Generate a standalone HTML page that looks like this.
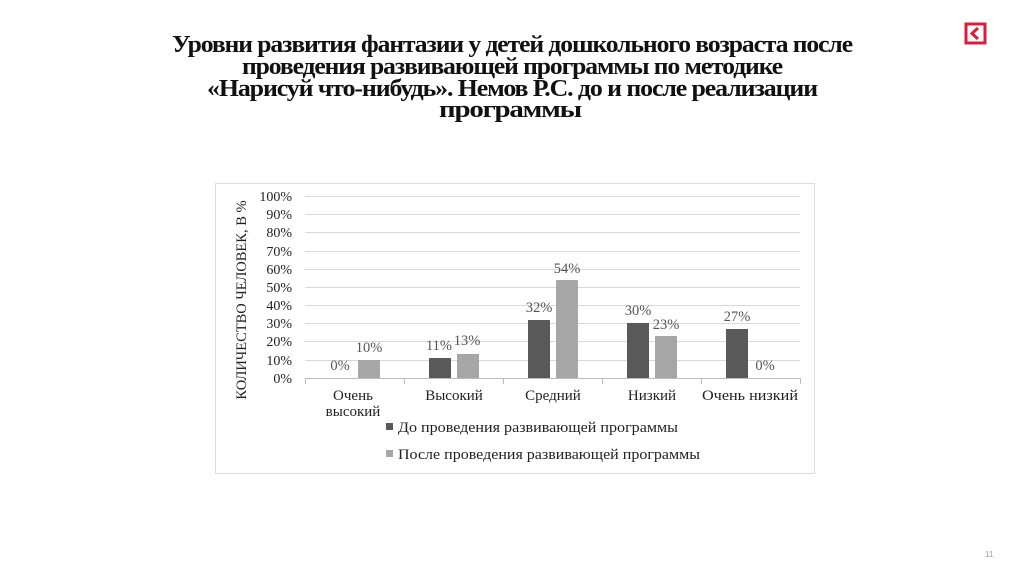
<!DOCTYPE html>
<html><head><meta charset="utf-8"><style>
body{margin:0;background:#fff;width:1024px;height:574px;overflow:hidden}
svg{display:block}
</style></head><body>
<svg width="1024" height="574" xmlns="http://www.w3.org/2000/svg" font-family="Liberation Serif, serif">
<g font-weight="bold" font-size="24" fill="#111" text-anchor="middle" letter-spacing="-1">
<text x="512" y="52" textLength="680" lengthAdjust="spacingAndGlyphs">Уровни развития фантазии у детей дошкольного возраста после</text>
<text x="512" y="74" textLength="540" lengthAdjust="spacingAndGlyphs">проведения развивающей программы по методике</text>
<text x="512" y="96" textLength="610" lengthAdjust="spacingAndGlyphs">«Нарисуй что-нибудь». Немов Р.С. до и после реализации</text>
<text x="510" y="117" textLength="142" lengthAdjust="spacingAndGlyphs">программы</text>
</g>
<rect x="966" y="24" width="19" height="19" fill="none" stroke="#d81e3c" stroke-width="3"/>
<path d="M978 28 L972 33.5 L978 39" fill="none" stroke="#d81e3c" stroke-width="3"/>
<text x="985" y="557" font-size="8" fill="#999" font-family="Liberation Sans, sans-serif">11</text>
<rect x="215.5" y="183.5" width="599" height="290" fill="#fff" stroke="#ddd"/>
<g stroke="#d9d9d9" stroke-width="1">
<line x1="305" x2="800" y1="196.5" y2="196.5"/><line x1="305" x2="800" y1="214.5" y2="214.5"/>
<line x1="305" x2="800" y1="232.5" y2="232.5"/><line x1="305" x2="800" y1="251.5" y2="251.5"/>
<line x1="305" x2="800" y1="269.5" y2="269.5"/><line x1="305" x2="800" y1="287.5" y2="287.5"/>
<line x1="305" x2="800" y1="305.5" y2="305.5"/><line x1="305" x2="800" y1="323.5" y2="323.5"/>
<line x1="305" x2="800" y1="341.5" y2="341.5"/><line x1="305" x2="800" y1="360.5" y2="360.5"/>
<line x1="305" x2="800" y1="378.5" y2="378.5" stroke="#bbb"/>
<line x1="305.5" x2="305.5" y1="378" y2="384" stroke="#bbb"/><line x1="404.5" x2="404.5" y1="378" y2="384" stroke="#bbb"/>
<line x1="503.5" x2="503.5" y1="378" y2="384" stroke="#bbb"/><line x1="602.5" x2="602.5" y1="378" y2="384" stroke="#bbb"/>
<line x1="701.5" x2="701.5" y1="378" y2="384" stroke="#bbb"/><line x1="800.5" x2="800.5" y1="378" y2="384" stroke="#bbb"/>
</g>
<g font-size="14" fill="#222" text-anchor="end">
<text x="292" y="201">100%</text><text x="292" y="219">90%</text><text x="292" y="237">80%</text>
<text x="292" y="256">70%</text><text x="292" y="274">60%</text><text x="292" y="292">50%</text>
<text x="292" y="310">40%</text><text x="292" y="328">30%</text><text x="292" y="346">20%</text>
<text x="292" y="365">10%</text><text x="292" y="383">0%</text>
</g>
<text transform="translate(246,300) rotate(-90)" font-size="14.5" fill="#222" text-anchor="middle">КОЛИЧЕСТВО ЧЕЛОВЕК, В %</text>
<g fill="#595959">
<rect x="429" y="358" width="22" height="20"/>
<rect x="528" y="320" width="22" height="58"/>
<rect x="627" y="323" width="22" height="55"/>
<rect x="726" y="329" width="22" height="49"/>
</g>
<g fill="#a6a6a6">
<rect x="358" y="360" width="22" height="18"/>
<rect x="457" y="354" width="22" height="24"/>
<rect x="556" y="280" width="22" height="98"/>
<rect x="655" y="336" width="22" height="42"/>
</g>
<g font-size="14.5" fill="#555" text-anchor="middle">
<text x="340" y="370">0%</text><text x="369" y="352">10%</text>
<text x="439" y="350">11%</text><text x="467" y="345">13%</text>
<text x="539" y="312">32%</text><text x="567" y="273">54%</text>
<text x="638" y="315">30%</text><text x="666" y="329">23%</text>
<text x="737" y="321">27%</text><text x="765" y="370">0%</text>
</g>
<g font-size="15" fill="#222" text-anchor="middle">
<text x="353" y="400">Очень</text><text x="353" y="416">высокий</text>
<text x="454" y="400">Высокий</text><text x="553" y="400">Средний</text>
<text x="652" y="400">Низкий</text><text x="750" y="400" textLength="96" lengthAdjust="spacingAndGlyphs">Очень низкий</text>
</g>
<rect x="386" y="423" width="7" height="7" fill="#595959"/>
<rect x="386" y="450" width="7" height="7" fill="#a6a6a6"/>
<g font-size="15" fill="#222">
<text x="398" y="432" textLength="280" lengthAdjust="spacingAndGlyphs">До проведения развивающей программы</text>
<text x="398" y="459" textLength="302" lengthAdjust="spacingAndGlyphs">После проведения развивающей программы</text>
</g>
</svg>
</body></html>
